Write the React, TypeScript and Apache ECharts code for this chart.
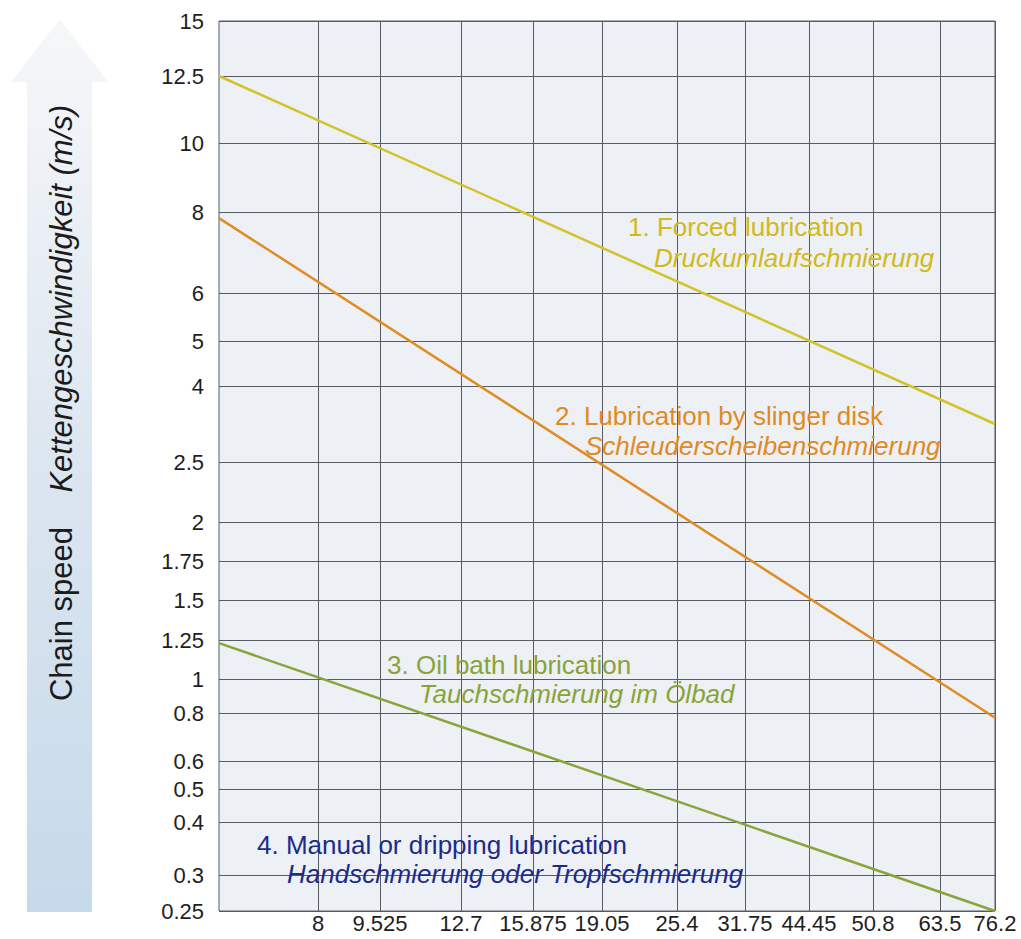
import React, { useEffect, useRef } from "react";
import * as echarts from "echarts";

// ---- Data ----
// Chain pitch (mm) tick labels on the x axis
const pitchTicks = [8, 9.525, 12.7, 15.875, 19.05, 25.4, 31.75, 44.45, 50.8, 63.5, 76.2];
// Chain speed (m/s) tick labels on the y axis
const speedTicks = [0.25, 0.3, 0.4, 0.5, 0.6, 0.8, 1, 1.25, 1.5, 1.75, 2, 2.5, 4, 5, 6, 8, 10, 12.5, 15];

// Boundary lines: speed at the left edge of the chart and at pitch 76.2
const boundaryNames = ["Forced lubrication", "Lubrication by slinger disk", "Oil bath lubrication"];
const speedAtStart = [12.5, 7.85, 1.23];
const speedAtEnd = [3.25, 0.78, 0.25];
const endPitch = 76.2;

// ---- Non-uniform scale of the original nomogram (scale units along each axis) ----
const xScaleMax = 776;
const xScaleStops = [99, 161, 242, 314, 383, 458, 526, 590, 654, 721, 776];
const yScaleMax = 890;
const yScaleStops = [0, 36, 89, 122, 150, 198, 232, 271, 311, 350, 389, 449, 525, 570, 618, 699, 768, 835, 890];

function interp(v: number, vals: number[], stops: number[]): number {
  if (v <= vals[0]) return stops[0];
  for (let i = 1; i < vals.length; i++) {
    if (v <= vals[i]) {
      const t = (v - vals[i - 1]) / (vals[i] - vals[i - 1]);
      return stops[i - 1] + t * (stops[i] - stops[i - 1]);
    }
  }
  return stops[stops.length - 1];
}
const xPos = (p: number) => interp(p, pitchTicks, xScaleStops);
const yPos = (s: number) => interp(s, speedTicks, yScaleStops);

function labelFor(v: number, vals: number[], stops: number[]): string {
  for (let i = 0; i < stops.length; i++) {
    if (Math.abs(stops[i] - v) < 0.5) return String(vals[i]);
  }
  return "";
}

const FONT = "'Liberation Sans', Arial, Helvetica, sans-serif";
const lineColors = ["#d3c22a", "#e08c22", "#8ba43a"];
const gridColor = "#575c64";

export default function App() {
  const ref = useRef<HTMLDivElement>(null);
  useEffect(() => {
    if (!ref.current) return;
    const chart = echarts.init(ref.current, null, { renderer: "svg" });

    const series = boundaryNames.map((name, i) => ({
      name,
      type: "line" as const,
      data: [
        [0, yPos(speedAtStart[i])],
        [xPos(endPitch), yPos(speedAtEnd[i])],
      ],
      symbol: "none",
      lineStyle: { color: lineColors[i], width: 2.5 },
      z: 5,
    }));

    const annot = (text: string, x: number, y: number, color: string, italic: boolean) => ({
      type: "text",
      x,
      y,
      z: 20,
      style: {
        text,
        fill: color,
        fontSize: 26,
        fontFamily: FONT,
        fontStyle: italic ? "italic" : "normal",
        align: "left",
        verticalAlign: "middle",
      },
    });

    chart.setOption({
      animation: false,
      backgroundColor: "#ffffff",
      grid: {
        left: 219,
        top: 21,
        width: 776,
        height: 890,
        show: true,
        backgroundColor: "#edf0f5",
        borderColor: gridColor,
        borderWidth: 1,
      },
      xAxis: {
        type: "value",
        min: 0,
        max: xScaleMax,
        axisLine: { show: false },
        axisTick: { show: false, customValues: xScaleStops },
        splitLine: { show: true, lineStyle: { color: gridColor, width: 1 } },
        axisLabel: {
          customValues: xScaleStops,
          formatter: (v: number) => labelFor(v, pitchTicks, xScaleStops),
          fontSize: 22,
          fontFamily: FONT,
          color: "#1e1e1e",
          margin: 1,
        },
      },
      yAxis: {
        type: "value",
        min: 0,
        max: yScaleMax,
        axisLine: { show: false },
        axisTick: { show: false, customValues: yScaleStops },
        splitLine: { show: true, lineStyle: { color: gridColor, width: 1 } },
        axisLabel: {
          customValues: yScaleStops,
          formatter: (v: number) => labelFor(v, speedTicks, yScaleStops),
          fontSize: 22,
          fontFamily: FONT,
          color: "#1e1e1e",
          margin: 15,
        },
      },
      series,
      graphic: [
        {
          type: "polygon",
          z: 1,
          shape: {
            points: [
              [11, 82],
              [60, 19],
              [108, 82],
              [92, 82],
              [92, 912],
              [27, 912],
              [27, 82],
            ],
          },
          style: {
            fill: {
              type: "linear",
              x: 0,
              y: 0,
              x2: 0,
              y2: 1,
              colorStops: [
                { offset: 0, color: "#f6f7f9" },
                { offset: 0.5, color: "#dce6f0" },
                { offset: 1, color: "#c6d9ea" },
              ],
            },
          },
        },
        {
          type: "text",
          x: 61,
          y: 403,
          rotation: Math.PI / 2,
          z: 10,
          style: {
            text: "{a|Chain speed}    {b|Kettengeschwindigkeit (m/s)}",
            align: "center",
            verticalAlign: "middle",
            fill: "#1c1c1c",
            fontSize: 31,
            fontFamily: FONT,
            rich: {
              a: { fontSize: 31, fontFamily: FONT, fill: "#1c1c1c" },
              b: { fontSize: 31, fontFamily: FONT, fontStyle: "italic", fill: "#1c1c1c" },
            },
          },
        },
        annot("1. Forced lubrication", 628, 227, "#d2b91a", false),
        annot("Druckumlaufschmierung", 654, 258, "#d2b91a", true),
        annot("2. Lubrication by slinger disk", 555, 416, "#e08a22", false),
        annot("Schleuderscheibenschmierung", 585, 446, "#e08a22", true),
        annot("3. Oil bath lubrication", 387, 665, "#8aa338", false),
        annot("Tauchschmierung im Ölbad", 419, 694, "#8aa338", true),
        annot("4. Manual or dripping lubrication", 257, 845, "#1c2b8a", false),
        annot("Handschmierung oder Tropfschmierung", 287, 874, "#1c2b8a", true),
      ],
    });
    return () => chart.dispose();
  }, []);
  return (
    <div
      ref={ref}
      style={{ position: "absolute", left: 0, top: 0, width: 1021, height: 939 }}
    />
  );
}
